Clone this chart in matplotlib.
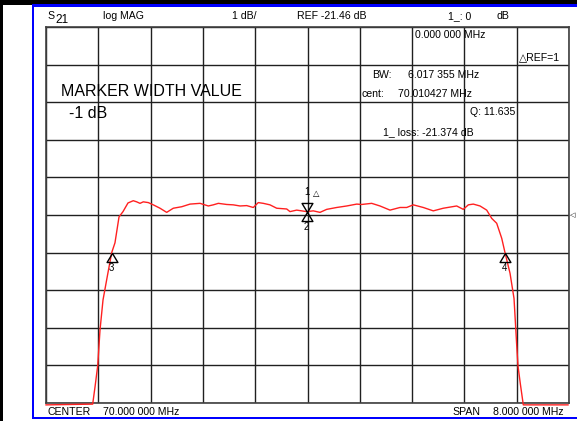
import matplotlib
matplotlib.use("Agg")
import matplotlib.pyplot as plt
from matplotlib.patches import Rectangle
from matplotlib.path import Path

# trace (MHz, dB)
freq_mhz = [66.000, 66.714, 66.750, 66.791, 66.826, 66.872, 66.941, 67.005, 67.055, 67.117,
            67.178, 67.254, 67.335, 67.387, 67.438, 67.488, 67.565, 67.641, 67.744, 67.846,
            67.947, 68.076, 68.203, 68.356, 68.483, 68.559, 68.636, 68.764, 68.865, 68.968,
            69.070, 69.171, 69.247, 69.324, 69.426, 69.529, 69.682, 69.732, 69.835, 69.988,
            70.089, 70.191, 70.294, 70.447, 70.600, 70.753, 70.829, 70.982, 71.109, 71.262,
            71.415, 71.517, 71.618, 71.771, 71.924, 72.077, 72.282, 72.383, 72.460, 72.536,
            72.639, 72.741, 72.818, 72.894, 72.971, 73.021, 73.098, 73.159, 73.200, 73.220,
            73.258, 73.301, 73.985]
s21_db = [-26.51, -26.49, -26.03, -25.47, -24.52, -23.72, -23.06, -22.46, -22.20, -21.51,
          -21.37, -21.14, -21.08, -21.11, -21.15, -21.11, -21.13, -21.19, -21.28, -21.39,
          -21.28, -21.24, -21.17, -21.15, -21.22, -21.19, -21.15, -21.18, -21.19, -21.22,
          -21.21, -21.26, -21.13, -21.15, -21.19, -21.28, -21.30, -21.37, -21.33, -21.37,
          -21.35, -21.39, -21.31, -21.26, -21.22, -21.17, -21.18, -21.15, -21.22, -21.33,
          -21.26, -21.26, -21.19, -21.26, -21.35, -21.28, -21.22, -21.31, -21.19, -21.17,
          -21.22, -21.33, -21.55, -21.68, -22.08, -22.46, -23.01, -23.68, -24.92, -25.48,
          -25.98, -26.51, -26.51]

center_mhz = 70.0
span_mhz = 8.0
ref_db = -21.46
db_per_div = 1.0
ref_div = 5

marker_names = ["1", "2", "3", "4"]
marker_freq = [69.988, 69.988, 67.005, 73.021]
marker_db = [-21.374, -21.374, -22.46, -22.46]

W, H = 577, 421
fig = plt.figure(figsize=(W / 100, H / 100), dpi=100)
fam = ["Liberation Sans", "DejaVu Sans"]


def fx(x):
    return x / W


def fy(y):
    return 1 - y / H


def box(x0, y0, x1, y1, c):
    fig.add_artist(Rectangle((fx(x0), fy(y1)), fx(x1) - fx(x0), fy(y0) - fy(y1),
                             transform=fig.transFigure, color=c, lw=0))


# screen frame
box(0, 0, W, 4.5, "black")
box(0, 0, 3, H, "black")
box(32, 4.5, W, 6.5, "#0000ff")
box(32, 4.5, 34, 419, "#0000ff")
box(32, 416.5, W, 419, "#0000ff")

ax = fig.add_axes([fx(46), fy(403), fx(569) - fx(46), fy(27) - fy(403)])
lo = center_mhz - span_mhz / 2
hi = center_mhz + span_mhz / 2
top = ref_db + ref_div * db_per_div
bot = ref_db - (10 - ref_div) * db_per_div
ax.set_xlim(lo, hi)
ax.set_ylim(bot, top)
ax.set_xticks([lo + i * span_mhz / 10 for i in range(11)])
ax.set_yticks([bot + i * db_per_div for i in range(11)])
ax.tick_params(length=0, labelbottom=False, labelleft=False)
ax.grid(True, color="#202020", lw=1.0)
for s in ax.spines.values():
    s.set_color("#404040")
    s.set_linewidth(1.2)

ax.plot(freq_mhz, s21_db, color="#ff2020", lw=1.0, clip_on=False, zorder=3)

down_tri = Path([(0, 0), (-0.6, 1), (0.6, 1), (0, 0)], [1, 2, 2, 79])
up_tri = Path([(0, 0), (-0.6, -1), (0.6, -1), (0, 0)], [1, 2, 2, 79])
for i, name in enumerate(marker_names):
    f, d = marker_freq[i], marker_db[i]
    if name == "1":
        ax.plot([f], [d], marker=down_tri, ms=13, mfc="none", mec="black", mew=1, zorder=4)
        ax.annotate(name, (f, d), xytext=(0, 20), textcoords="offset pixels",
                    ha="center", va="center", fontsize=7, family=fam)
        ax.annotate("\u25b3", (f, d), xytext=(10, 17), textcoords="offset pixels",
                    ha="center", va="center", fontsize=6, family=fam)
    else:
        ax.plot([f], [d], marker=up_tri, ms=13, mfc="none", mec="black", mew=1, zorder=4)
        ax.annotate(name, (f, d), xytext=(0, -15), textcoords="offset pixels",
                    ha="center", va="center", fontsize=7, family=fam)

# screen annotations
small = 7.6
fig.text(fx(47), fy(16), "S", fontsize=small, family=fam, va="center")
fig.text(fx(55), fy(20), "21", fontsize=8.5, family=fam, va="center")
fig.text(fx(103), fy(16), "log MAG", fontsize=small, family=fam, va="center")
fig.text(fx(232), fy(16), "1 dB/", fontsize=small, family=fam, va="center")
fig.text(fx(297), fy(16), "REF -21.46 dB", fontsize=small, family=fam, va="center")
fig.text(fx(448), fy(16), "1_: 0", fontsize=small, family=fam, va="center")
fig.text(fx(497), fy(16), "dB", fontsize=small, family=fam, va="center")
fig.text(fx(415), fy(35), "0.000 000 MHz", fontsize=small, family=fam, va="center")
fig.text(fx(519), fy(57), "\u25b3REF=1", fontsize=small, family=fam, va="center")
fig.text(fx(372), fy(75), "BW:", fontsize=small, family=fam, va="center")
fig.text(fx(408), fy(75), "6.017 355 MHz", fontsize=small, family=fam, va="center")
fig.text(fx(362), fy(94), "cent:", fontsize=small, family=fam, va="center")
fig.text(fx(398), fy(94), "70.010427 MHz", fontsize=small, family=fam, va="center")
fig.text(fx(470), fy(112), "Q: 11.635", fontsize=small, family=fam, va="center")
fig.text(fx(383), fy(132), "1_ loss: -21.374 dB", fontsize=small, family=fam, va="center")
fig.text(fx(61), fy(92), "MARKER WIDTH VALUE", fontsize=11.5, family=fam, va="center")
fig.text(fx(69), fy(113), "-1 dB", fontsize=11.5, family=fam, va="center")
fig.text(fx(48), fy(412), "CENTER", fontsize=small, family=fam, va="center")
fig.text(fx(103), fy(412), "70.000 000 MHz", fontsize=small, family=fam, va="center")
fig.text(fx(452), fy(412), "SPAN", fontsize=small, family=fam, va="center")
fig.text(fx(493), fy(412), "8.000 000 MHz", fontsize=small, family=fam, va="center")
fig.text(fx(570), fy(215.5), "\u25c1", fontsize=5, family=fam, va="center")

fig.savefig("out.png", dpi=100)
